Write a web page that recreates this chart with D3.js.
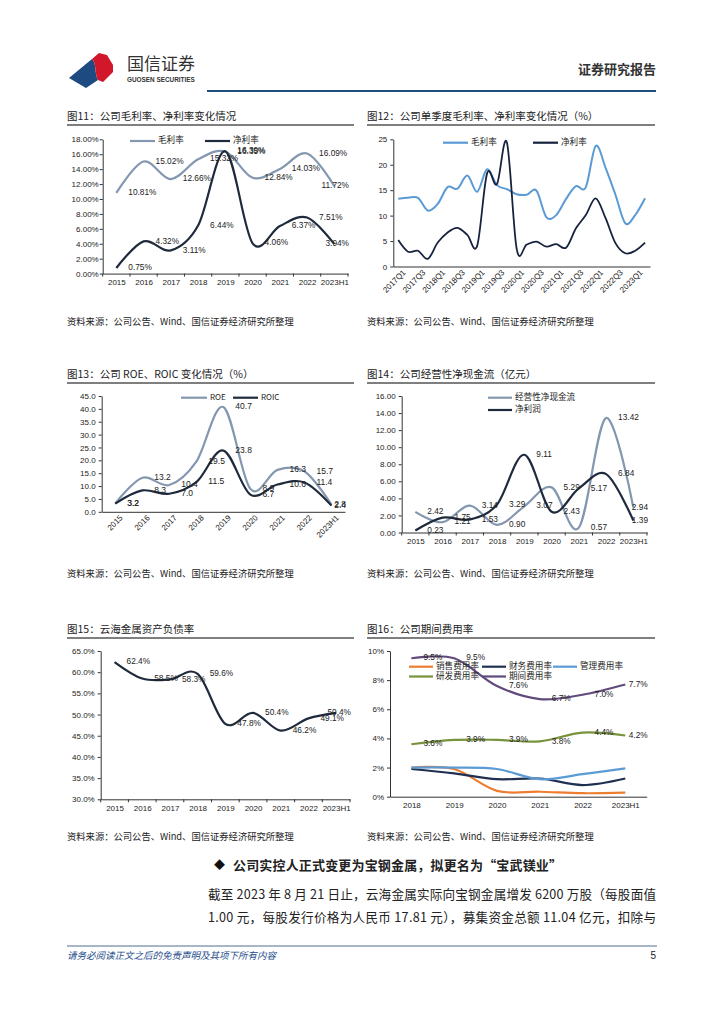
<!DOCTYPE html>
<html>
<head>
<meta charset="utf-8">
<script src="https://cdn.jsdelivr.net/npm/d3@7"></script>
<style>
  body { margin: 0; background: #fff; }
  svg { display: block; }
  text { font-family: "Liberation Sans", Arial, "Noto Sans CJK SC", sans-serif; }
  .cjk { font-family: "Noto Sans CJK SC", "Liberation Sans", sans-serif; }
</style>
</head>
<body>
<svg id="page" width="724" height="1024"></svg>
<script>
// ---- data ----
const years = ["2015", "2016", "2017", "2018", "2019", "2020", "2021", "2022", "2023H1"];

// 图11
const grossMargin = [10.81, 15.02, 12.66, 15.32, 16.35, 12.84, 14.03, 16.09, 11.72];
const netMargin = [0.75, 4.32, 3.11, 6.44, 16.39, 4.06, 6.37, 7.51, 3.94];

// 图12 (quarterly)
const quarters = [
  "2017Q1", "2017Q2", "2017Q3", "2017Q4", "2018Q1", "2018Q2", "2018Q3", "2018Q4",
  "2019Q1", "2019Q2", "2019Q3", "2019Q4", "2020Q1", "2020Q2", "2020Q3", "2020Q4",
  "2021Q1", "2021Q2", "2021Q3", "2021Q4", "2022Q1", "2022Q2", "2022Q3", "2022Q4",
  "2023Q1", "2023Q2"
];
const grossQ = [13.3, 13.5, 13.5, 11.0, 12.3, 15.6, 15.3, 17.9, 14.7, 19.1, 16.0, 15.2, 14.2,
  14.1, 14.9, 9.7, 10.1, 13.3, 15.8, 15.6, 23.7, 19.4, 14.1, 8.5, 10.1, 13.4];
const netQ = [5.2, 2.9, 3.1, 1.5, 4.7, 6.7, 7.6, 6.2, 4.1, 18.3, 16.2, 24.4, 3.4,
  4.3, 4.9, 3.9, 4.4, 3.7, 7.5, 10.1, 13.4, 9.5, 4.6, 2.6, 3.1, 4.7];

// 图13
const roe = [3.2, 13.2, 10.4, 19.5, 40.7, 8.9, 16.3, 15.7, 2.8];
const roic = [3.2, 8.3, 7.0, 11.5, 23.8, 6.7, 10.6, 11.4, 2.4];

// 图14 (亿元)
const opCashFlow = [2.42, 1.21, 3.14, 0.90, 3.07, 5.29, 0.57, 13.42, 2.94];
const netProfit = [0.23, 1.75, 1.53, 3.29, 9.11, 2.43, 5.17, 6.84, 1.39];

// 图15
const debtRatio = [62.4, 58.5, 58.3, 59.6, 47.8, 50.4, 46.2, 49.1, 50.4];

// 图16
const years16 = ["2018", "2019", "2020", "2021", "2022", "2023H1"];
const salesRate = [2.0, 1.9, 0.4, 0.34, 0.24, 0.28];
const financeRate = [1.9, 1.6, 1.2, 1.25, 0.8, 1.25];
const adminRate = [2.0, 2.0, 1.9, 1.2, 1.55, 1.95];
const rndRate = [3.6, 3.9, 3.9, 3.8, 4.4, 4.2];
const periodRate = [9.5, 9.5, 7.6, 6.7, 7.0, 7.7];

const sourceText = "资料来源：公司公告、Wind、国信证券经济研究所整理";

// ---- drawing ----
const svg = d3.select("#page");
const GRAY = "#8497b0";
const NAVY = "#1f2a3c";
const smooth = d3.curveCatmullRom.alpha(0);

function header() {
  svg.append("path")
    .attr("d", "M69,78 L92,59 C97,64 94,72 98,80 L86,88 Z")
    .attr("fill", "#1d4a80");
  svg.append("path")
    .attr("d", "M92,59 L99,53 L107,55 L113,65 L113,72 L103,82 L98,80 C94,72 97,64 92,59 Z")
    .attr("fill", "#d3172b");
  svg.append("text").attr("class", "cjk")
    .attr("x", 127).attr("y", 70)
    .attr("font-size", 17).attr("fill", "#333")
    .text("国信证券");
  svg.append("text")
    .attr("x", 127).attr("y", 82)
    .attr("font-size", 6.4).attr("font-weight", "bold").attr("fill", "#333")
    .text("GUOSEN SECURITIES");
  svg.append("text").attr("class", "cjk")
    .attr("x", 656).attr("y", 74).attr("text-anchor", "end")
    .attr("font-size", 13).attr("font-weight", "bold").attr("fill", "#333")
    .text("证券研究报告");
  svg.append("line")
    .attr("x1", 207).attr("x2", 656).attr("y1", 91).attr("y2", 91)
    .attr("stroke", "#1f4e7c").attr("stroke-width", 2);
}

function panelTitle(x, y, w, text) {
  svg.append("text").attr("class", "cjk")
    .attr("x", x).attr("y", y).attr("dominant-baseline", "middle")
    .attr("font-size", 10.5).attr("fill", "#222")
    .text(text);
  svg.append("line")
    .attr("x1", x).attr("x2", x + w).attr("y1", y + 8).attr("y2", y + 8)
    .attr("stroke", "#555").attr("stroke-width", 1.5);
}

function source(x, y) {
  svg.append("text").attr("class", "cjk")
    .attr("x", x).attr("y", y).attr("dominant-baseline", "middle")
    .attr("font-size", 9.3).attr("fill", "#222")
    .text(sourceText);
}

function legend(items) {
  items.forEach((it) => {
    svg.append("line")
      .attr("x1", it.x).attr("x2", it.x + it.len)
      .attr("y1", it.y).attr("y2", it.y)
      .attr("stroke", it.color).attr("stroke-width", 2.2);
    svg.append("text").attr("class", "cjk")
      .attr("x", it.x + it.len + 3).attr("y", it.y)
      .attr("dominant-baseline", "middle")
      .attr("font-size", it.size || 8.6).attr("fill", "#222")
      .text(it.text);
  });
}

function drawChart(cfg) {
  const g = svg.append("g");
  const x = d3.scalePoint().domain(cfg.cats).range([cfg.left, cfg.right]).padding(0.5);
  const band = d3.scaleBand().domain(cfg.cats).range([cfg.left, cfg.right]);
  const y = d3.scaleLinear().domain(cfg.yDomain).range([cfg.bottom, cfg.top]);

  // y axis
  const yAxis = d3.axisLeft(y)
    .tickValues(cfg.yTicks)
    .tickFormat(cfg.yFmt)
    .tickSize(3)
    .tickPadding(cfg.yPad ?? 3)
    .tickSizeOuter(0);
  const ya = g.append("g").attr("transform", `translate(${cfg.left},0)`).call(yAxis);
  ya.select(".domain").attr("stroke", "#333");
  ya.selectAll(".tick line").attr("stroke", "#333");
  ya.selectAll(".tick text").attr("font-size", 8).attr("fill", "#222")
    .attr("font-family", "Liberation Sans, Arial, sans-serif");

  // x axis
  const xAxis = d3.axisBottom(x).tickSize(0).tickPadding(cfg.rotate ? 4 : 6).tickSizeOuter(0);
  if (cfg.every) xAxis.tickValues(cfg.cats.filter((d, i) => i % cfg.every === 0));
  const xa = g.append("g").attr("transform", `translate(0,${cfg.bottom})`).call(xAxis);
  xa.select(".domain").attr("stroke", "#333");
  xa.selectAll(".tick text").attr("font-size", 8).attr("fill", "#222")
    .attr("font-family", "Liberation Sans, Arial, sans-serif");
  if (cfg.rotate) {
    xa.selectAll(".tick text")
      .attr("text-anchor", "end")
      .attr("dy", "0.3em")
      .attr("transform", "translate(3,2) rotate(-45)");
  }
  if (cfg.boundaryTicks) {
    const edges = cfg.cats.map((c) => band(c)).concat([cfg.right]);
    g.selectAll(null).data(edges).join("line")
      .attr("x1", (d) => d).attr("x2", (d) => d)
      .attr("y1", cfg.bottom).attr("y2", cfg.bottom + 3)
      .attr("stroke", "#333");
  }

  // lines
  cfg.series.forEach((s) => {
    const line = d3.line()
      .x((d, i) => x(cfg.cats[i]))
      .y((d) => y(d))
      .curve(smooth);
    g.append("path")
      .attr("d", line(s.values))
      .attr("fill", "none")
      .attr("stroke", s.color)
      .attr("stroke-width", s.width || 2.2)
      .attr("stroke-linejoin", "round");
  });

  // data labels, to the right of each point
  cfg.series.filter((s) => s.labels).forEach((s) => {
    s.values.forEach((v, i) => {
      const t = g.append("text")
        .attr("x", x(cfg.cats[i]) + (cfg.labelDx ?? 12))
        .attr("y", y(v))
        .attr("dominant-baseline", "middle")
        .attr("font-size", cfg.labelSize || 8.3)
        .attr("fill", "#222")
        .text(cfg.labelFmt(v));
      const w = t.node().getComputedTextLength();
      const lx = +t.attr("x");
      if (lx + w > cfg.right + 1) t.attr("x", cfg.right + 1 - w);
    });
  });
  return { x, y };
}

header();

// 图11
panelTitle(67, 117, 287, "图11：公司毛利率、净利率变化情况");
drawChart({
  cats: years, left: 102.7, right: 348, top: 139.3, bottom: 273.6,
  yDomain: [0, 18], yTicks: d3.range(0, 18.1, 2), yFmt: (d) => d3.format(".2f")(d) + "%",
  yPad: 1, boundaryTicks: true,
  series: [
    { values: grossMargin, color: GRAY, labels: true },
    { values: netMargin, color: NAVY, labels: true }
  ],
  labelFmt: (v) => d3.format(".2f")(v) + "%"
});
legend([
  { x: 130, y: 141, len: 25, color: GRAY, text: "毛利率" },
  { x: 205, y: 141, len: 25, color: NAVY, text: "净利率" }
]);
source(67, 322);

// 图12
panelTitle(367, 117, 288, "图12：公司单季度毛利率、净利率变化情况（%）");
drawChart({
  cats: quarters, left: 393.3, right: 650, top: 139.3, bottom: 266.5,
  yDomain: [0, 25], yTicks: d3.range(0, 25.1, 5), yFmt: d3.format("d"),
  rotate: true, every: 2,
  series: [
    { values: grossQ, color: "#5b9bd5", width: 2 },
    { values: netQ, color: "#17233d", width: 1.8 }
  ]
});
legend([
  { x: 443, y: 142.7, len: 25, color: "#5b9bd5", text: "毛利率" },
  { x: 533, y: 142.7, len: 25, color: "#17233d", text: "净利率" }
]);
source(367, 322);

// 图13
panelTitle(67, 375, 287, "图13：公司 ROE、ROIC 变化情况（%）");
drawChart({
  cats: years, left: 101.7, right: 345, top: 396, bottom: 511.8,
  yDomain: [0, 45], yTicks: d3.range(0, 45.1, 5), yFmt: d3.format(".1f"),
  rotate: true,
  series: [
    { values: roe, color: GRAY, labels: true },
    { values: roic, color: NAVY, labels: true }
  ],
  labelFmt: d3.format(".1f"), labelSize: 8.5
});
legend([
  { x: 181, y: 397.7, len: 26, color: GRAY, text: "ROE", size: 8 },
  { x: 233, y: 397.7, len: 25, color: NAVY, text: "ROIC", size: 8 }
]);
source(67, 574);

// 图14
panelTitle(367, 375, 288, "图14：公司经营性净现金流（亿元）");
drawChart({
  cats: years, left: 401.7, right: 647, top: 396, bottom: 532.5,
  yDomain: [0, 16], yTicks: d3.range(0, 16.1, 2), yFmt: d3.format(".2f"),
  boundaryTicks: true,
  series: [
    { values: opCashFlow, color: GRAY, labels: true },
    { values: netProfit, color: NAVY, labels: true }
  ],
  labelFmt: d3.format(".2f")
});
legend([
  { x: 488, y: 397.7, len: 24, color: GRAY, text: "经营性净现金流" },
  { x: 488, y: 410, len: 24, color: NAVY, text: "净利润" }
]);
source(367, 574);

// 图15
panelTitle(67, 630, 287, "图15：云海金属资产负债率");
drawChart({
  cats: years, left: 100.7, right: 350, top: 651, bottom: 799.3,
  yDomain: [30, 65], yTicks: d3.range(30, 65.1, 5), yFmt: (d) => d3.format(".1f")(d) + "%",
  boundaryTicks: true,
  series: [{ values: debtRatio, color: NAVY, labels: true }],
  labelFmt: (v) => d3.format(".1f")(v) + "%"
});
source(67, 837);

// 图16
panelTitle(367, 630, 288, "图16：公司期间费用率");
drawChart({
  cats: years16, left: 390, right: 646.7, top: 651, bottom: 796.7,
  yDomain: [0, 10], yTicks: d3.range(0, 10.1, 2), yFmt: (d) => d + "%",
  series: [
    { values: salesRate, color: "#ed7d31" },
    { values: financeRate, color: "#1f3050" },
    { values: adminRate, color: "#5b9bd5" },
    { values: rndRate, color: "#77933c", labels: true },
    { values: periodRate, color: "#604a7b", labels: true }
  ],
  labelFmt: (v) => d3.format(".1f")(v) + "%"
});
legend([
  { x: 409, y: 666.7, len: 24, color: "#ed7d31", text: "销售费用率" },
  { x: 482, y: 666.7, len: 24, color: "#1f3050", text: "财务费用率" },
  { x: 553, y: 666.7, len: 24, color: "#5b9bd5", text: "管理费用率" },
  { x: 409, y: 676.5, len: 24, color: "#77933c", text: "研发费用率" },
  { x: 482, y: 676.5, len: 24, color: "#604a7b", text: "期间费用率" }
]);
source(367, 837);

// body text
svg.append("text")
  .attr("x", 214).attr("y", 866).attr("dominant-baseline", "middle")
  .attr("font-size", 11).attr("fill", "#111")
  .text("◆");
svg.append("text").attr("class", "cjk")
  .attr("x", 233).attr("y", 866).attr("dominant-baseline", "middle")
  .attr("font-size", 13).attr("font-weight", "bold").attr("fill", "#222")
  .attr("textLength", 329).attr("lengthAdjust", "spacing")
  .text("公司实控人正式变更为宝钢金属，拟更名为“宝武镁业”");
const paragraph = [
  "截至 2023 年 8 月 21 日止，云海金属实际向宝钢金属增发 6200 万股（每股面值",
  "1.00 元，每股发行价格为人民币 17.81 元），募集资金总额 11.04 亿元，扣除与"
];
paragraph.forEach((line, i) => {
  svg.append("text").attr("class", "cjk")
    .attr("x", 208).attr("y", 896 + i * 23).attr("dominant-baseline", "middle")
    .attr("font-size", 12.6).attr("fill", "#222")
    .attr("textLength", 448).attr("lengthAdjust", "spacing")
    .text(line);
});

// footer
svg.append("line")
  .attr("x1", 67).attr("x2", 657).attr("y1", 946).attr("y2", 946)
  .attr("stroke", "#4f6f8f").attr("stroke-width", 1);
svg.append("text").attr("class", "cjk")
  .attr("x", 67).attr("y", 956).attr("dominant-baseline", "middle")
  .attr("font-size", 9.5).attr("font-style", "italic").attr("fill", "#1f4e8c")
  .text("请务必阅读正文之后的免责声明及其项下所有内容");
svg.append("text")
  .attr("x", 656).attr("y", 956).attr("dominant-baseline", "middle").attr("text-anchor", "end")
  .attr("font-size", 10).attr("fill", "#222")
  .text("5");
</script>
</body>
</html>
